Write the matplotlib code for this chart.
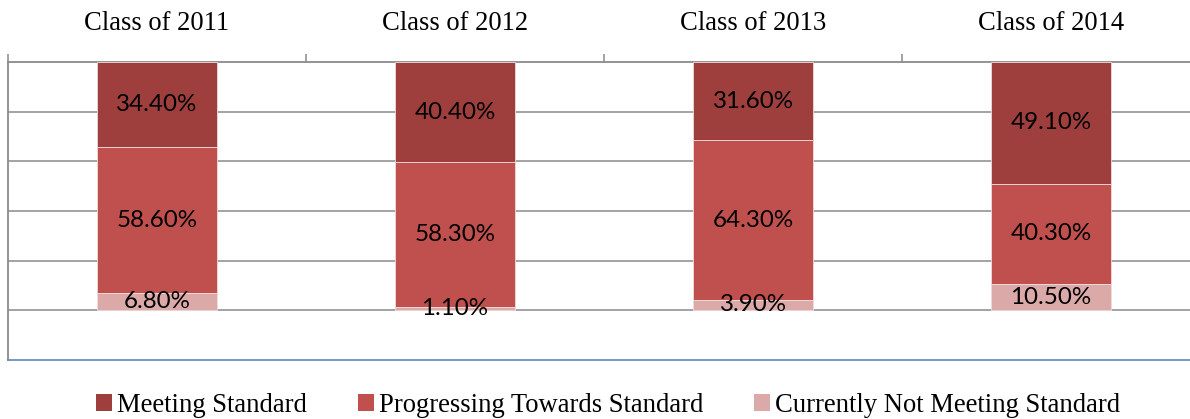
import numpy as np
import matplotlib.pyplot as plt
from matplotlib.patches import Patch

# data (percent)
classes = ['Class of 2011', 'Class of 2012', 'Class of 2013', 'Class of 2014']
meeting = [34.4, 40.4, 31.6, 49.1]
progressing = [58.6, 58.3, 64.3, 40.3]
not_meeting = [6.8, 1.1, 3.9, 10.5]
series_names = ['Meeting Standard', 'Progressing Towards Standard',
                'Currently Not Meeting Standard']
colors = ['#9e3f3e', '#c0504d', '#dca9a9']

W, H = 1190, 419
fig = plt.figure(figsize=(W / 100, H / 100), dpi=100)
ax = fig.add_axes([8 / W, 1 - 360 / H, 1192 / W, 298 / H])

x = np.arange(len(classes))
bottom = np.zeros(len(classes))
for vals, col in zip([meeting, progressing, not_meeting], colors):
    vals = np.array(vals)
    ax.bar(x, vals, 0.4, bottom=bottom, color=col, edgecolor='#f0dcdc',
           linewidth=0.6, zorder=3)
    for xi, b, v in zip(x, bottom, vals):
        ax.text(xi, b + v / 2, '%.2f%%' % v, ha='center', va='center',
                fontsize=17.4, family='Lato', color='black', zorder=4)
    bottom += vals

ax.set_xlim(-0.5, 3.5)
ax.set_ylim(120, 0)
ax.set_yticks([20, 40, 60, 80, 100])
ax.set_yticklabels([])
ax.tick_params(axis='y', length=0)
ax.grid(axis='y', color='#8a8a8a', linewidth=1.1, zorder=1)

# category axis on top, ticks between categories
ax.xaxis.tick_top()
ax.set_xticks([-0.5, 0.5, 1.5, 2.5])
ax.set_xticklabels([])
ax.set_xticks(x, minor=True)
ax.set_xticklabels(classes, minor=True, family='Liberation Serif', fontsize=19.2)
ax.tick_params(axis='x', which='major', direction='out', length=6,
               color='#8a8a8a', width=1.1)
ax.tick_params(axis='x', which='minor', length=0, pad=19)

for s in ['top', 'left']:
    ax.spines[s].set_color('#8a8a8a')
    ax.spines[s].set_linewidth(1.3)
ax.spines['right'].set_visible(False)
ax.spines['bottom'].set_color('#5b86c0')
ax.spines['bottom'].set_linewidth(1.2)

handles = [Patch(facecolor=c, edgecolor='none') for c in colors]
fig.legend(handles, series_names, loc='center', bbox_to_anchor=(608 / W, 1 - 405 / H),
           ncol=3, frameon=False, prop={'family': 'Liberation Serif', 'size': 19.2},
           handlelength=0.6, handleheight=0.6, handletextpad=0.2, columnspacing=1.9,
           borderaxespad=0, borderpad=0)

fig.savefig('out.png', dpi=100)
